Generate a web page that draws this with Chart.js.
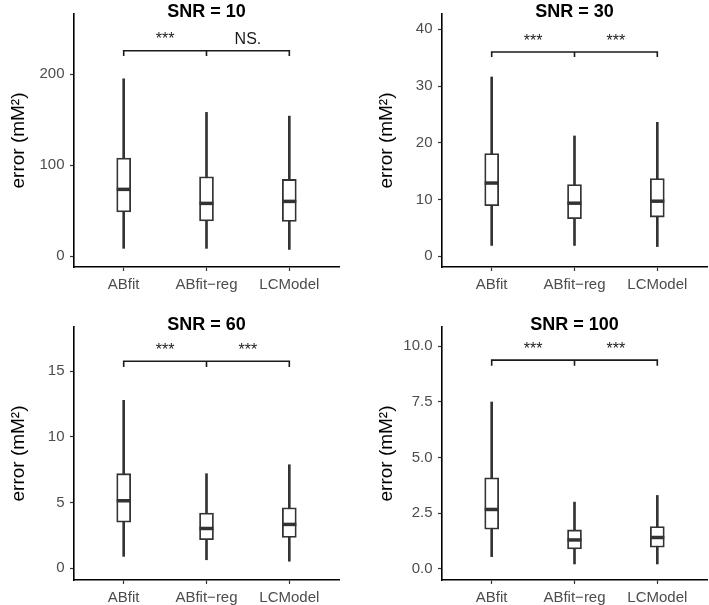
<!DOCTYPE html>
<html>
<head>
<meta charset="utf-8">
<script src="https://cdn.jsdelivr.net/npm/chart.js@4.4.1/dist/chart.umd.min.js"></script>
<style>
  body { margin: 0; background: #fff; width: 709px; height: 605px; position: relative; overflow: hidden; }
  canvas { position: absolute; }
</style>
</head>
<body>
<canvas id="p0" width="340" height="300" style="left:0px;top:0px"></canvas>
<canvas id="p1" width="340" height="300" style="left:368px;top:0px"></canvas>
<canvas id="p2" width="340" height="300" style="left:0px;top:313px"></canvas>
<canvas id="p3" width="340" height="300" style="left:368px;top:313px"></canvas>
<script>
// data, one row per SNR panel
const categories = ['ABfit', 'ABfit\u2212reg', 'LCModel']
const snrLevels = [10, 30, 60, 100]
const whiskerLow  = [[8.5, 8.5, 7.3], [1.9, 1.9, 1.7], [0.9, 0.64, 0.53], [0.55, 0.22, 0.22]]
const boxQ1       = [[48.4, 38.5, 38.0], [8.9, 6.6, 6.9], [3.5, 2.16, 2.34], [1.78, 0.9, 0.97]]
const boxMedian   = [[73.3, 57.9, 60.1], [12.9, 9.35, 9.7], [5.13, 3.02, 3.33], [2.67, 1.3, 1.41]]
const boxQ3       = [[107.7, 87.2, 84.2], [18.1, 12.65, 13.7], [7.19, 4.19, 4.6], [4.09, 1.75, 1.9]]
const whiskerHigh = [[194.8, 157.9, 153.8], [31.6, 21.2, 23.6], [12.77, 7.19, 7.87], [7.5, 3.0, 3.3]]
const yTicks = [[0, 100, 200], [0, 10, 20, 30, 40], [0, 5, 10, 15], [0, 2.5, 5, 7.5, 10]]
const yDecimals = [0, 0, 0, 1]
const yRange = [[-12, 266], [-1.9, 42.7], [-0.9, 18.35], [-0.5, 10.87]]
const bracketTop = [225.6, 36.0, 15.74, 9.38]
const bracketFoot = [219.8, 35.1, 15.3, 9.13]
const signifText = [['***', 'NS.'], ['***', '***'], ['***', '***'], ['***', '***']]

const FONT = '"Liberation Sans", Arial, sans-serif'
const INK = '#333333'

// brackets, significance marks and panel title
const annotate = {
  id: 'annotate',
  afterDatasetsDraw(chart, args, opts) {
    const k = opts.panel
    const {ctx, chartArea, scales} = chart
    const x = scales.x, y = scales.y
    const x1 = x.getPixelForValue(1), x2 = x.getPixelForValue(2), x3 = x.getPixelForValue(3)
    const yt = y.getPixelForValue(bracketTop[k]), yf = y.getPixelForValue(bracketFoot[k])
    ctx.save()
    ctx.strokeStyle = '#1a1a1a'
    ctx.lineWidth = 1.6
    ctx.beginPath()
    ctx.moveTo(x1, yf); ctx.lineTo(x1, yt); ctx.lineTo(x3, yt); ctx.lineTo(x3, yf)
    ctx.moveTo(x2, yt); ctx.lineTo(x2, yf)
    ctx.stroke()
    ctx.fillStyle = '#1a1a1a'
    ctx.textAlign = 'center'
    ctx.textBaseline = 'alphabetic'
    ctx.font = '16px ' + FONT
    ctx.fillText(signifText[k][0], (x1 + x2) / 2, yt - 6.5)
    ctx.fillText(signifText[k][1], (x2 + x3) / 2, yt - 6.5)
    ctx.fillStyle = '#000'
    ctx.font = 'bold 18px ' + FONT
    ctx.fillText('SNR = ' + snrLevels[k], (chartArea.left + chartArea.right) / 2, 17)
    ctx.restore()
  }
}

for (let k = 0; k < 4; k++) {
  const idx = [1, 2, 3]
  new Chart(document.getElementById('p' + k), {
    type: 'bar',
    data: {
      datasets: [
        {
          type: 'line',
          label: 'median',
          order: 0,
          showLine: false,
          data: idx.map((c, i) => ({x: c, y: boxMedian[k][i]})),
          pointStyle: 'line',
          pointRadius: 7,
          pointBorderWidth: 3.5,
          pointBorderColor: INK,
          borderColor: INK
        },
        {
          label: 'box',
          order: 1,
          grouped: false,
          barThickness: 14,
          data: idx.map((c, i) => ({x: c, y: [boxQ1[k][i], boxQ3[k][i]]})),
          backgroundColor: '#ffffff',
          borderColor: INK,
          borderWidth: 1.8,
          borderSkipped: false
        },
        {
          label: 'whisker',
          order: 2,
          grouped: false,
          barThickness: 2,
          data: idx.map((c, i) => ({x: c, y: [whiskerLow[k][i], whiskerHigh[k][i]]})),
          backgroundColor: INK,
          borderWidth: 0
        }
      ]
    },
    options: {
      responsive: false,
      animation: false,
      devicePixelRatio: 1,
      layout: { autoPadding: false, padding: { left: 0, right: 1, top: 14, bottom: 0 } },
      plugins: {
        legend: { display: false },
        tooltip: { enabled: false },
        annotate: { panel: k }
      },
      scales: {
        x: {
          type: 'linear',
          min: 0.4,
          max: 3.6,
          offset: false,
          afterBuildTicks: s => { s.ticks = idx.map(v => ({value: v})) },
          afterFit: s => { s.height = 33; s.paddingLeft = 0; s.paddingRight = 0 },
          border: { display: true, color: '#000', width: 1.6 },
          grid: { offset: false, drawOnChartArea: false, drawTicks: true, tickLength: 4, tickColor: INK, tickWidth: 1.2 },
          ticks: {
            autoSkip: false,
            maxRotation: 0,
            padding: 5,
            color: '#4d4d4d',
            font: { family: FONT, size: 15 },
            callback: v => categories[v - 1]
          }
        },
        y: {
          type: 'linear',
          min: yRange[k][0],
          max: yRange[k][1],
          afterBuildTicks: s => { s.ticks = yTicks[k].map(v => ({value: v})) },
          afterFit: s => { s.width = 74; s.paddingTop = 0; s.paddingBottom = 0 },
          border: { display: true, color: '#000', width: 1.6 },
          grid: { drawOnChartArea: false, drawTicks: true, tickLength: 4, tickColor: INK, tickWidth: 1.2 },
          ticks: {
            padding: 5.5,
            color: '#4d4d4d',
            font: { family: FONT, size: 15 },
            callback: v => v.toFixed(yDecimals[k])
          },
          title: {
            display: true,
            text: 'error (mM\u00b2)',
            color: '#000',
            font: { family: FONT, size: 19 },
            padding: { top: 7, bottom: 0 }
          }
        }
      }
    },
    plugins: [annotate]
  })
}
</script>
</body>
</html>
